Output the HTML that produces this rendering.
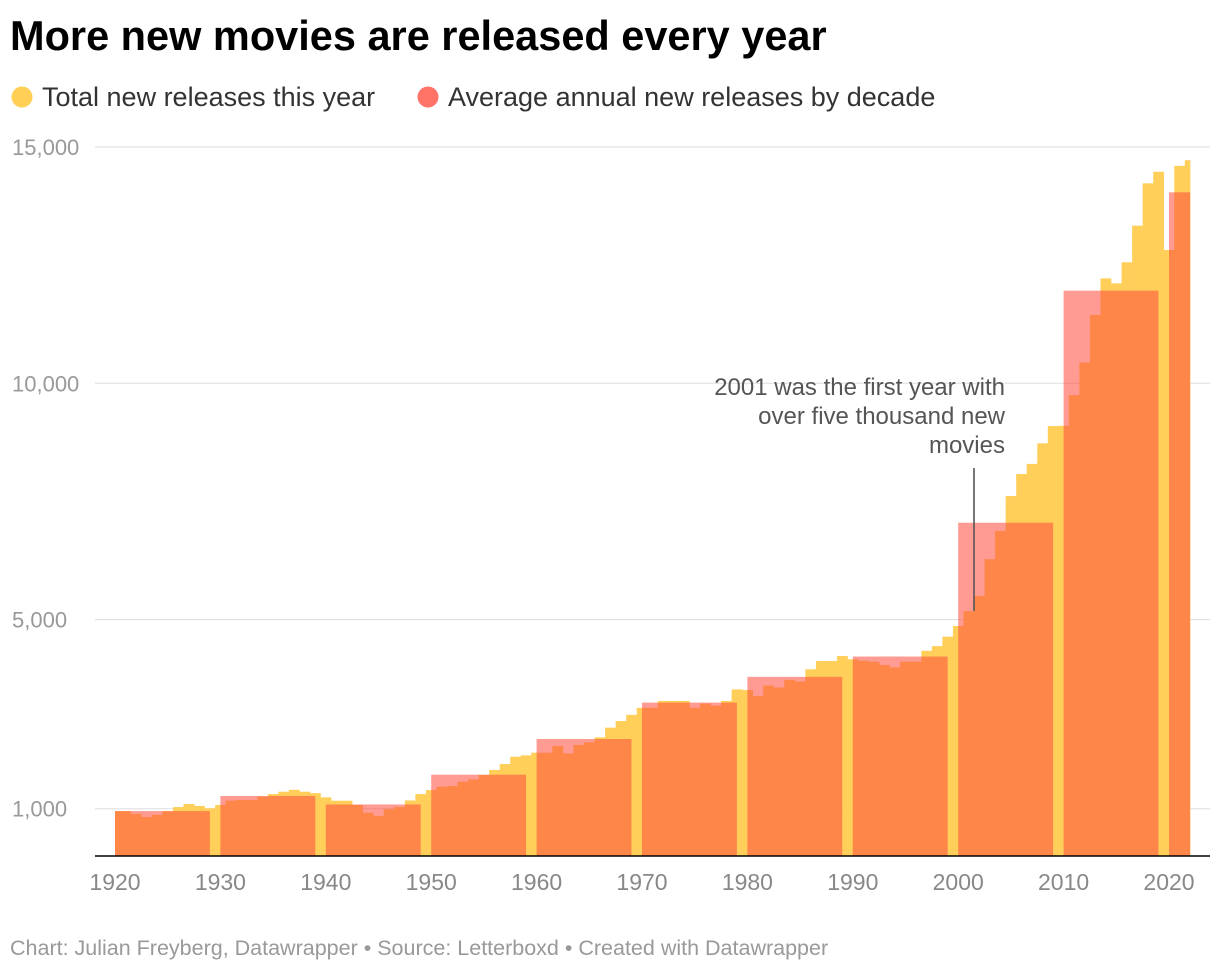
<!DOCTYPE html>
<html><head><meta charset="utf-8"><style>
body{margin:0;background:#fff;font-family:"Liberation Sans",Arial,sans-serif;}
</style></head><body>
<svg id="chart" width="1220" height="972" xmlns="http://www.w3.org/2000/svg" font-family="Liberation Sans, Arial, sans-serif">
<defs><clipPath id="plotclip"><rect x="115" y="100" width="75" height="760"/></clipPath></defs>
<text x="10" y="50" font-size="41.5" font-weight="bold" fill="#000">More new movies are released every year</text>
<g>
<circle cx="22" cy="97" r="10.5" fill="#ffcf56"/>
<text x="42" y="106" font-size="27" fill="#333">Total new releases this year</text>
<circle cx="428" cy="97" r="10.5" fill="#ff7466"/>
<text x="448" y="106" font-size="27" fill="#333">Average annual new releases by decade</text>
</g>
<g id="grid"></g>
<g id="bars"></g>
<g id="avg"></g>
<g id="axis"></g>
<g>
<text x="1005" y="395" font-size="24" fill="#555" text-anchor="end">2001 was the first year with</text>
<text x="1005" y="424" font-size="24" fill="#555" text-anchor="end">over five thousand new</text>
<text x="1005" y="453" font-size="24" fill="#555" text-anchor="end">movies</text>
<line x1="974" y1="468" x2="974" y2="611" stroke="#555" stroke-width="1.6"/>
</g>
<text x="10" y="955" font-size="21.5" fill="#999">Chart: Julian Freyberg, Datawrapper • Source: Letterboxd • Created with Datawrapper</text>
</svg>
<script>
const years = [];
for (let y = 1920; y <= 2022; y++) years.push(y);
const releases = [950,950,890,825,870,950,1035,1100,1060,1010,
1080,1170,1185,1185,1255,1310,1360,1400,1360,1330,
1240,1170,1170,1080,915,850,990,1035,1175,1310,
1395,1465,1480,1570,1620,1715,1820,1945,2100,2130,
2185,2185,2325,2170,2350,2405,2510,2715,2855,2985,
3135,3135,3280,3280,3280,3135,3225,3180,3280,3525,
3510,3385,3605,3565,3725,3690,3950,4125,4125,4230,
4160,4130,4110,4040,3990,4110,4110,4340,4440,4640,
4865,5180,5500,6280,6875,7615,8080,8295,8730,9095,
9100,9750,10440,11445,12220,12115,12560,13335,14230,14475,
12820,14600,14720];
const decades = [1920,1930,1940,1950,1960,1970,1980,1990,2000,2010,2020];
const decadeAvg = [950,1270,1090,1720,2475,3245,3790,4220,7050,11960,14040];
const yTicks = [1000,5000,10000,15000];
const xTicks = [1920,1930,1940,1950,1960,1970,1980,1990,2000,2010,2020];

const NS="http://www.w3.org/2000/svg";
const x = y => 115 + (y-1920)*10.54;
const bw = 10.54;
const yv = v => 856 - v*0.04727;
function mk(tag, attrs, parent){const e=document.createElementNS(NS,tag);for(const k in attrs)e.setAttribute(k,attrs[k]);document.getElementById(parent).appendChild(e);return e;}

const firstYear = years[0], lastYear = years[years.length-1];
const left = x(firstYear), right = x(lastYear);

yTicks.forEach(t=>{
  const l=mk('line',{x1:95,x2:1210,y1:yv(t),y2:yv(t),stroke:'#dddddd','stroke-width':1},'grid');
  
  
  const tx=mk('text',{x:12,y:yv(t)+8,'font-size':22,fill:'#999'},'grid');
  tx.textContent=t.toLocaleString('en-US');
  
  
});
years.forEach((yr,i)=>{
  const x0=Math.max(left,x(yr)-bw/2), x1=Math.min(right,x(yr)+bw/2);
  const r=mk('rect',{x:x0,y:yv(releases[i]),width:x1-x0+0.3,height:856-yv(releases[i]),fill:'#ffcf5a'},'bars');
  
  
});
decades.forEach((d,i)=>{
  const end=Math.min(d+9,lastYear);
  const r=mk('rect',{x:x(d),y:yv(decadeAvg[i]),width:x(end)-x(d),height:856-yv(decadeAvg[i]),fill:'#ff4c3c','fill-opacity':0.56},'avg');
  
  
});
const base=mk('line',{x1:95,x2:1210,y1:856,y2:856,stroke:'#000','stroke-width':1.5},'axis');


xTicks.forEach(t=>{
  const tx=mk('text',{x:x(t),y:890,'font-size':23,fill:'#888','text-anchor':'middle'},'axis');
  tx.textContent=t;
  
  
});
</script>
</body></html>
